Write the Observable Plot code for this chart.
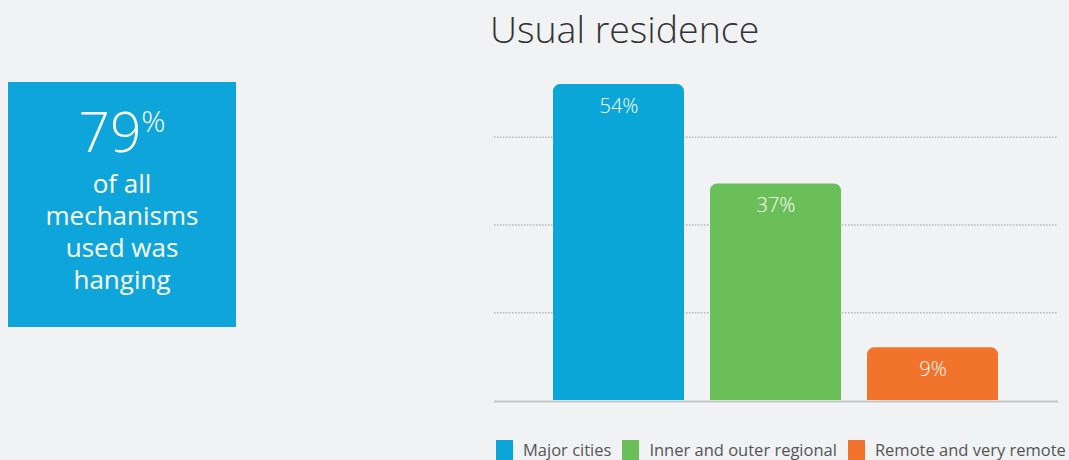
<!DOCTYPE html>
<html>
<head>
<meta charset="utf-8">
<script src="https://cdn.jsdelivr.net/npm/d3@7"></script>
<script src="https://cdn.jsdelivr.net/npm/@observablehq/plot@0.6"></script>
<style>
  html, body { margin: 0; padding: 0; background: #f1f2f4; }
  #wrap { position: relative; width: 1069px; height: 460px; overflow: hidden; font-family: "Open Sans", sans-serif; background: #f1f2f4; }
  #chart { position: absolute; left: 0; top: 0; }
  #title { position: absolute; left: 490px; top: 1px; font-size: 37.5px; font-weight: 300; color: #333; line-height: 56px; white-space: nowrap; }
  #box { position: absolute; left: 8px; top: 82px; width: 228px; height: 245px; background: #0ea5da; color: #fff; }
  .bl { position: absolute; left: 0; width: 228px; text-align: center; white-space: nowrap; }
  #big { font-size: 55px; font-weight: 300; line-height: 56px; top: 21px; }
  #big sup { font-size: 30px; line-height: 1; vertical-align: top; position: relative; top: 3px; margin-left: 0px; font-weight: 300; }
  #lines { font-size: 26px; line-height: 32px; top: 85px; }
  #legend { position: absolute; left: 496px; top: 440px; display: flex; align-items: flex-start; font-size: 16.5px; line-height: 20px; color: #555; white-space: nowrap; }
  .sw { width: 17px; height: 20px; margin-right: 10px; }
  .it { display: flex; margin-right: 11px; }
</style>
</head>
<body>
<div id="wrap">
  <div id="chart"></div>
  <div id="title"></div>
  <div id="box"></div>
  <div id="legend"></div>
</div>
<script>
const categories = ["Major cities", "Inner and outer regional", "Remote and very remote"];
const values = [54, 37, 9];
const labels = ["54%", "37%", "9%"];
const colors = ["#0ba6d8", "#6bbf59", "#f2742c"];
const gridTicks = [15, 30, 45];
const titleText = "Usual residence";
const boxValue = "79";
const boxUnit = "%";
const boxLines = ["of all", "mechanisms", "used was", "hanging"];

const data = categories.map((c, i) => ({category: c, value: values[i], label: labels[i]}));

const chart = Plot.plot({
  width: 1069,
  height: 460,
  marginLeft: 494,
  marginRight: 11,
  marginTop: 49,
  marginBottom: 60,
  style: {background: "transparent", fontFamily: "Open Sans, sans-serif"},
  x: {domain: categories, paddingInner: 0.165, paddingOuter: 0.373, axis: null},
  y: {domain: [0, 60], axis: null},
  color: {domain: categories, range: colors},
  marks: [
    Plot.ruleY(gridTicks, {stroke: "#b5b5b5", strokeWidth: 1.5, strokeDasharray: "1.5,1.5"}),
    Plot.barY(data, {x: "category", y: "value", fill: "category", ry1: 7}),
    Plot.ruleY([0], {stroke: "#c3c3c3", strokeWidth: 2, dy: 1}),
    Plot.text(data, {x: "category", y: "value", text: "label", fill: "#fff", fontSize: 20, fontWeight: 300, dy: 22})
  ]
});
document.getElementById("chart").appendChild(chart);

document.getElementById("title").textContent = titleText;

const box = document.getElementById("box");
const big = document.createElement("div");
big.className = "bl"; big.id = "big";
big.appendChild(document.createTextNode(boxValue));
const sup = document.createElement("sup"); sup.textContent = boxUnit; big.appendChild(sup);
box.appendChild(big);
const lines = document.createElement("div");
lines.className = "bl"; lines.id = "lines";
boxLines.forEach((t, i) => {
  if (i > 0) lines.appendChild(document.createElement("br"));
  lines.appendChild(document.createTextNode(t));
});
box.appendChild(lines);

const legend = document.getElementById("legend");
categories.forEach((c, i) => {
  const it = document.createElement("div"); it.className = "it";
  const sw = document.createElement("div"); sw.className = "sw"; sw.style.background = colors[i];
  const tx = document.createElement("span"); tx.textContent = c;
  it.appendChild(sw); it.appendChild(tx);
  legend.appendChild(it);
});
</script>
</body>
</html>
